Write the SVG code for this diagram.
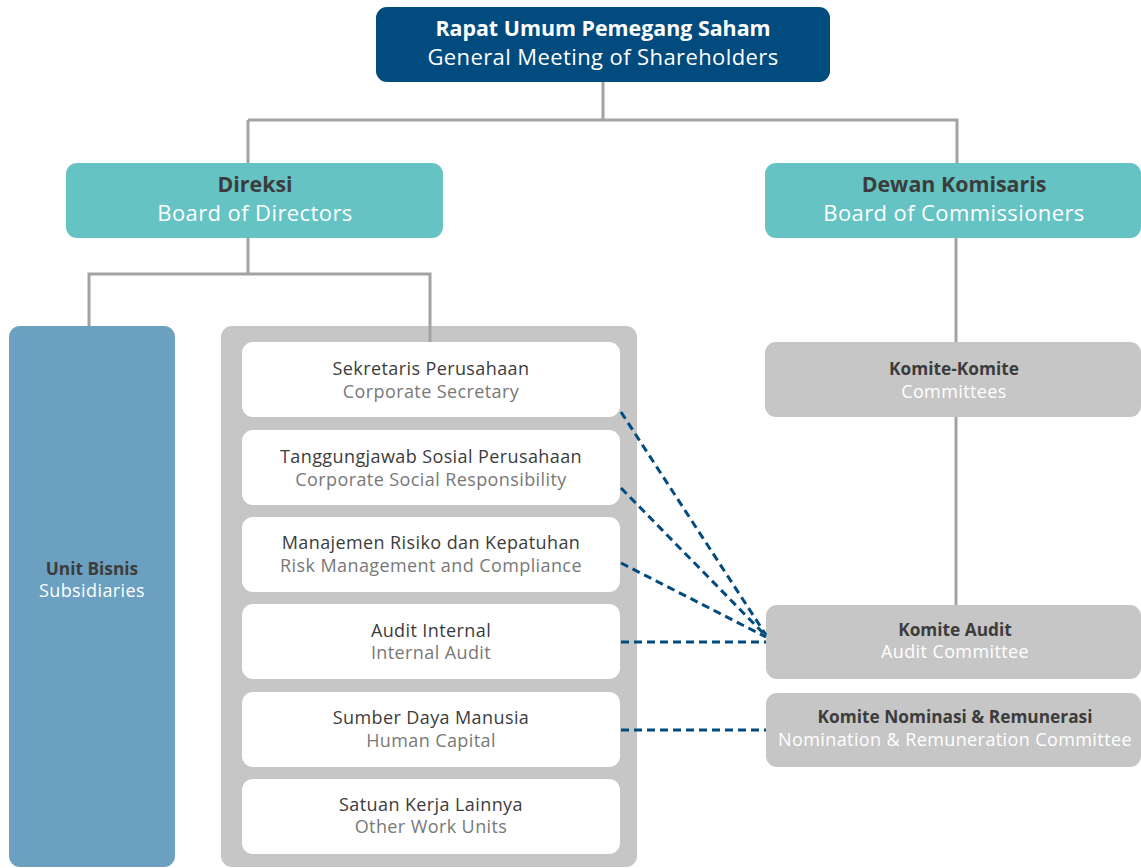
<svg xmlns="http://www.w3.org/2000/svg" width="1141" height="868" viewBox="0 0 1141 868">
  <style>
    text { font-family: "Open Sans", "Noto Sans", "Liberation Sans", sans-serif; text-anchor: middle; }
    .big { font-size: 22px; letter-spacing: 0.4px; }
    .big.b { font-size: 21.4px; letter-spacing: 0; }
    .small { font-size: 18px; letter-spacing: 0.4px; }
    .small.b { font-size: 17.3px; letter-spacing: 0; }
    .b { font-weight: bold; }
    .white { fill: #ffffff; }
    .dark { fill: #3c3c3c; }
    .grey { fill: #787878; }
    .tree { fill: none; stroke: #a3a3a3; stroke-width: 3; }
    .dash { fill: none; stroke: #024b7f; stroke-width: 3; stroke-dasharray: 8 5; }
    .unit { fill: #ffffff; }
    .pane { fill: #c6c6c6; }
  </style>

  <g id="gms">
    <rect x="376" y="7" width="454" height="75" rx="11" fill="#024b7f"/>
    <text x="603" y="36" class="big b white">Rapat Umum Pemegang Saham</text>
    <text x="603" y="64.5" class="big white">General Meeting of Shareholders</text>
  </g>

  <g id="direksi">
    <rect x="66" y="163" width="377" height="75" rx="11" fill="#65c3c4"/>
    <text x="255" y="192" class="big b dark">Direksi</text>
    <text x="255" y="220.5" class="big white">Board of Directors</text>
  </g>

  <g id="komisaris">
    <rect x="765" y="163" width="376" height="75" rx="11" fill="#65c3c4"/>
    <text x="954" y="192" class="big b dark">Dewan Komisaris</text>
    <text x="954" y="220.5" class="big white">Board of Commissioners</text>
  </g>

  <g id="unit-bisnis">
    <rect x="9" y="326" width="166" height="541" rx="11" fill="#6ba0c0"/>
    <text x="92" y="575" class="small b dark">Unit Bisnis</text>
    <text x="92" y="597" class="small white">Subsidiaries</text>
  </g>

  <g id="work-units">
    <rect class="pane" x="221" y="326" width="416" height="541" rx="11"/>

    <g id="corporate-secretary">
      <rect class="unit" x="242" y="342" width="378" height="75" rx="11"/>
      <text x="431" y="375" class="small dark">Sekretaris Perusahaan</text>
      <text x="431" y="398" class="small grey">Corporate Secretary</text>
    </g>
    <g id="csr">
      <rect class="unit" x="242" y="430" width="378" height="75" rx="11"/>
      <text x="431" y="463" class="small dark">Tanggungjawab Sosial Perusahaan</text>
      <text x="431" y="486" class="small grey">Corporate Social Responsibility</text>
    </g>
    <g id="risk">
      <rect class="unit" x="242" y="517" width="378" height="75" rx="11"/>
      <text x="431" y="549" class="small dark">Manajemen Risiko dan Kepatuhan</text>
      <text x="431" y="572" class="small grey">Risk Management and Compliance</text>
    </g>
    <g id="internal-audit">
      <rect class="unit" x="242" y="604" width="378" height="75" rx="11"/>
      <text x="431" y="637" class="small dark">Audit Internal</text>
      <text x="431" y="659" class="small grey">Internal Audit</text>
    </g>
    <g id="human-capital">
      <rect class="unit" x="242" y="692" width="378" height="75" rx="11"/>
      <text x="431" y="724" class="small dark">Sumber Daya Manusia</text>
      <text x="431" y="747" class="small grey">Human Capital</text>
    </g>
    <g id="other-units">
      <rect class="unit" x="242" y="779" width="378" height="75" rx="11"/>
      <text x="431" y="811" class="small dark">Satuan Kerja Lainnya</text>
      <text x="431" y="833" class="small grey">Other Work Units</text>
    </g>
  </g>

  <g id="committees">
    <rect class="pane" x="765" y="342" width="376" height="75" rx="11"/>
    <text x="954" y="375" class="small b dark">Komite-Komite</text>
    <text x="954" y="398" class="small white">Committees</text>
  </g>

  <g id="audit-committee">
    <rect class="pane" x="766" y="605" width="375" height="74" rx="11"/>
    <text x="955" y="636" class="small b dark">Komite Audit</text>
    <text x="955" y="658" class="small white">Audit Committee</text>
  </g>

  <g id="nomination-committee">
    <rect class="pane" x="766" y="693" width="375" height="74" rx="11"/>
    <text x="955" y="723" class="small b dark">Komite Nominasi &amp; Remunerasi</text>
    <text x="955" y="746" class="small white">Nomination &amp; Remuneration Committee</text>
  </g>

  <!-- hierarchy lines and dashed reporting lines, drawn over the boxes -->
  <g id="connectors">
    <path class="tree" d="M603 82 V120 M248 120 H957 V163 M248 120 V163"/>
    <path class="tree" d="M248 238 V274 M89 326 V274 H430 V342"/>
    <path class="tree" d="M956 238 V342 M956 417 V605"/>
    <path class="dash" d="M621 412 L766 635"/>
    <path class="dash" d="M621 488 L766 636"/>
    <path class="dash" d="M621 563 L766 637"/>
    <path class="dash" d="M621 642 H766"/>
    <path class="dash" d="M621 730 H766"/>
  </g>
</svg>
